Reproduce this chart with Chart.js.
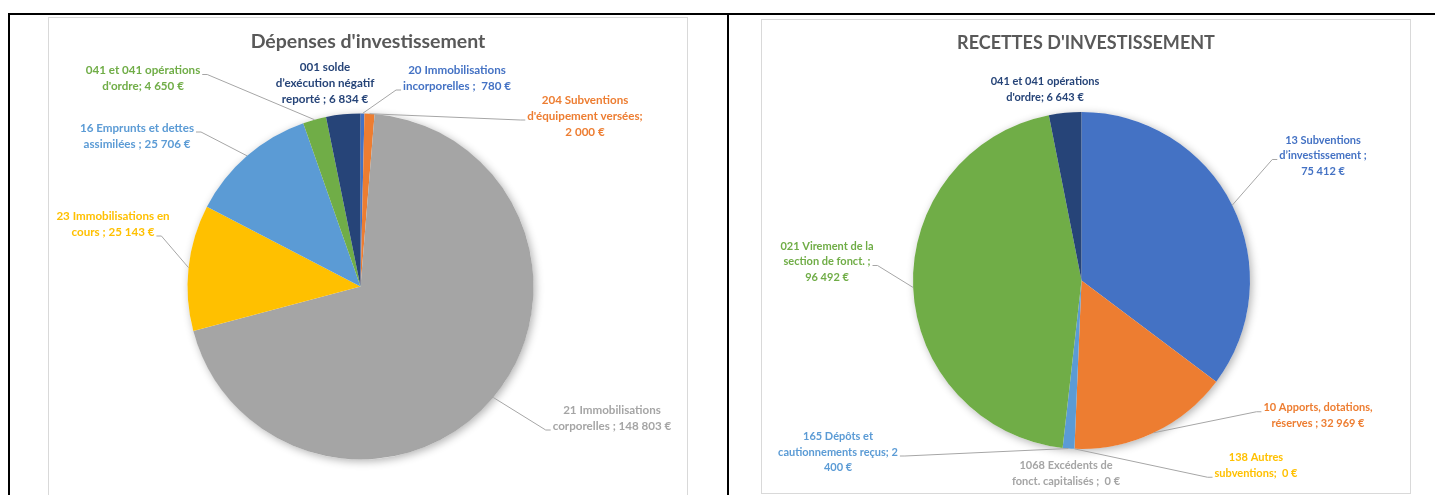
<!DOCTYPE html>
<html><head><meta charset="utf-8">
<script src="https://cdn.jsdelivr.net/npm/chart.js@4.4.1/dist/chart.umd.min.js"></script>
<style>
html,body{margin:0;padding:0;background:#fff;}
#page{position:relative;width:1435px;height:495px;overflow:hidden;background:#fff;}
.bk{position:absolute;background:#000;}
.frame{position:absolute;border:1px solid #D9D9D9;box-sizing:border-box;}
canvas{position:absolute;}
</style></head><body>
<div id="page">
 <div class="bk" style="left:8px;top:13px;width:1427px;height:2px"></div>
 <div class="bk" style="left:8px;top:13px;width:2px;height:482px"></div>
 <div class="bk" style="left:727px;top:13px;width:2px;height:482px"></div>
 <div class="frame" style="left:48px;top:17px;width:640px;height:490px"></div>
 <div class="frame" style="left:761px;top:19px;width:650px;height:475px"></div>
 <canvas id="c1" width="638" height="478" style="left:49px;top:18px"></canvas>
 <canvas id="c2" width="647" height="472" style="left:762px;top:20px"></canvas>
</div>
<script>
// ---- DATA ----
const depTitle = "Dépenses d'investissement";
const depCategories = ["20 Immobilisations incorporelles", "204 Subventions d'équipement versées", "21 Immobilisations corporelles", "23 Immobilisations en cours", "16 Emprunts et dettes assimilées", "041 et 041 opérations d'ordre", "001 solde d’exécution négatif reporté"];
const depValues = [780, 2000, 148803, 25143, 25706, 4650, 6834];

const recTitle = "RECETTES D'INVESTISSEMENT";
const recCategories = ["13 Subventions d’investissement", "10 Apports, dotations, réserves", "1068 Excédents de fonct. capitalisés", "138 Autres subventions", "165 Dépôts et cautionnements reçus", "021 Virement de la section de fonct.", "041 et 041 opérations d'ordre"];
const recValues = [75412, 32969, 0, 0, 2400, 96492, 6643];

// ---- STYLE ----
const depColors = ['#4472C4', '#ED7D31', '#A5A5A5', '#FFC000', '#5B9BD5', '#70AD47', '#264478'];
const recColors = ['#4472C4', '#ED7D31', '#A5A5A5', '#FFC000', '#5B9BD5', '#70AD47', '#264478'];
const depSeps = [' ;  ', '; ', ' ; ', ' ; ', ' ; ', '; ', ' ; '];
const recSeps = [' ; ', ' ; ', ' ;  ', ';  ', '; ', ' ; ', '; '];
const depWrap = [[2,5],[2,2,3],[2,5],[3,5],[4,5],[4,4],[2,2,5]];
const recWrap = [[2,2,3],[3,5],[3,6],[2,4],[3,3,2],[4,4,3],[4,4]];
// label block centre offsets from pie centre, and leader anchors
const depLabelPos = [
  {dx:96.5, dy:-208.5, leader:{side:'left', line:1}},
  {dx:224.5, dy:-170.5, leader:{side:'left', line:1}},
  {dx:251.5, dy:131.5, leader:{side:'left', line:1}},
  {dx:-247.5, dy:-62.5, leader:{side:'right', line:1}},
  {dx:-223.5, dy:-150.5, leader:{side:'right', line:0}},
  {dx:-217.5, dy:-208, leader:{side:'right', line:0}},
  {dx:-35.5, dy:-203.5, leader:null}
];
const recLabelPos = [
  {dx:241.5, dy:-125, leader:{side:'left', line:1}},
  {dx:236.5, dy:135, leader:{side:'left', line:0}},
  {dx:-15.5, dy:193, leader:null},
  {dx:174.5, dy:185, leader:{side:'left', line:1}},
  {dx:-243.5, dy:171.5, leader:{side:'right', line:1}},
  {dx:-254.5, dy:-19, leader:{side:'right', line:1}},
  {dx:-36.5, dy:-191, leader:null}
];

function fmt(v){ return String(v).replace(/\B(?=(\d{3})+(?!\d))/g,' ') + ' €'; }
function wrap(text, counts){
  const w = text.split(' '); const out = []; let k = 0;
  for (const c of counts){ out.push(w.slice(k,k+c).join(' ')); k += c; }
  if (k < w.length) out[out.length-1] += ' ' + w.slice(k).join(' ');
  return out;
}

const pieDecor = {
  id:'pieDecor',
  beforeDatasetsDraw(chart){
    const a = chart.getDatasetMeta(0).data[0]; if(!a) return;
    const ctx = chart.ctx; ctx.save();
    ctx.shadowColor = 'rgba(0,0,0,0.3)'; ctx.shadowBlur = 8; ctx.shadowOffsetX = 2; ctx.shadowOffsetY = 2;
    ctx.beginPath(); ctx.arc(a.x, a.y, a.outerRadius, 0, Math.PI*2); ctx.fillStyle = '#fff'; ctx.fill();
    ctx.restore();
  },
  afterDatasetsDraw(chart){
    const cfg = chart.options.plugins.pieDecor;
    const ctx = chart.ctx; const meta = chart.getDatasetMeta(0);
    const ds = chart.data.datasets[0];
    ctx.save();
    // title
    ctx.font = cfg.titleFont; ctx.fillStyle = '#595959'; ctx.textAlign = 'center'; ctx.textBaseline = 'middle';
    ctx.fillText(cfg.title, cfg.titleX, cfg.titleY);
    ctx.font = cfg.labelFont;
    meta.data.forEach((arc, i) => {
      const p = cfg.pos[i];
      const text = chart.data.labels[i] + cfg.seps[i] + fmt(ds.data[i]);
      const lines = wrap(text, cfg.wrap[i]);
      const lx = arc.x + p.dx, ly = arc.y + p.dy, lh = cfg.lineHeight;
      const top = ly - (lines.length-1)*lh/2;
      ctx.fillStyle = ds.backgroundColor[i];
      lines.forEach((t, j) => ctx.fillText(t, lx, top + j*lh));
      if (p.leader){
        const w = ctx.measureText(lines[p.leader.line]).width;
        const yy = top + p.leader.line*lh + 4;
        const ax = p.leader.side === 'left' ? lx - w/2 - 2 : lx + w/2 + 2;
        const ex = p.leader.side === 'left' ? ax - 5 : ax + 5;
        const mid = (arc.startAngle + arc.endAngle)/2;
        const px = arc.x + Math.cos(mid)*arc.outerRadius, py = arc.y + Math.sin(mid)*arc.outerRadius;
        ctx.beginPath(); ctx.moveTo(ax, yy); ctx.lineTo(ex, yy); ctx.lineTo(px, py);
        ctx.strokeStyle = '#A6A6A6'; ctx.lineWidth = 1; ctx.stroke();
      }
    });
    ctx.restore();
  }
};

function makePie(id, cats, vals, colors, padding, deco){
  return new Chart(document.getElementById(id), {
    type:'pie',
    data:{ labels:cats, datasets:[{ data:vals, backgroundColor:colors, borderWidth:0, hoverOffset:0, offset:0 }] },
    options:{
      responsive:false, animation:false, events:[],
      layout:{ padding },
      plugins:{ legend:{display:false}, tooltip:{enabled:false}, title:{display:false}, pieDecor:deco }
    },
    plugins:[pieDecor]
  });
}

makePie('c1', depCategories, depValues, depColors, {left:138.5, top:95.5, right:153.5, bottom:36.5},
  {title:depTitle, titleX:319, titleY:24, titleFont:'bold 19.5px Lato', labelFont:'bold 11.6px Lato', lineHeight:16,
   pos:depLabelPos, seps:depSeps, wrap:depWrap});
makePie('c2', recCategories, recValues, recColors, {left:151, top:92, right:159, bottom:43},
  {title:recTitle, titleX:324, titleY:23, titleFont:'bold 18px Lato', labelFont:'bold 11px Lato', lineHeight:15.5,
   pos:recLabelPos, seps:recSeps, wrap:recWrap});
</script>
</body></html>
